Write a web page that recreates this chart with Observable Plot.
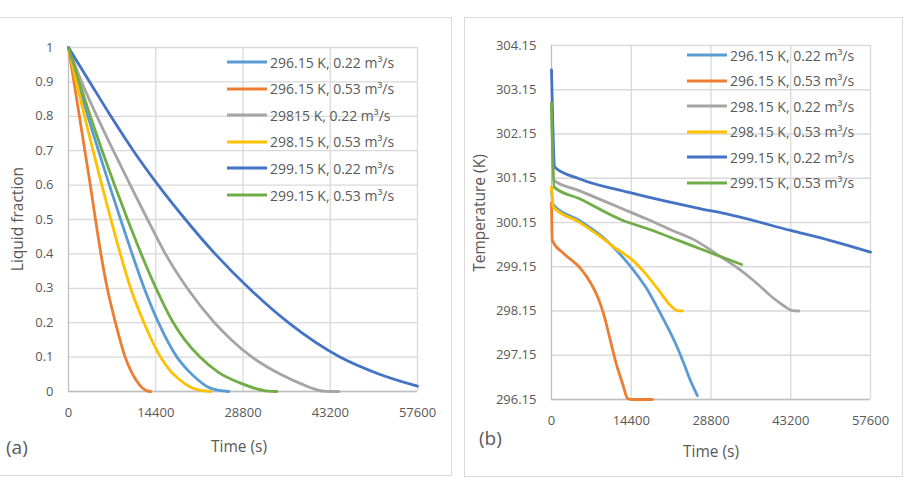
<!DOCTYPE html>
<html>
<head>
<meta charset="utf-8">
<script src="https://cdn.jsdelivr.net/npm/d3@7"></script>
<script src="https://cdn.jsdelivr.net/npm/@observablehq/plot@0.6"></script>
<style>
  html, body { margin: 0; padding: 0; background: #fff; }
  #page { position: relative; width: 904px; height: 480px; overflow: hidden; font-family: "Open Sans", sans-serif; color: #595959; }
  .panel { position: absolute; border: 1px solid #d9d9d9; box-sizing: border-box; pointer-events: none; }
  .chart { position: absolute; top: 0; }
  .txt { position: absolute; white-space: nowrap; line-height: 1; }
  .legend-row { position: absolute; display: flex; align-items: center; height: 20px; transform: translateY(-50%); font-size: 14px; white-space: nowrap; }
  .legend-row svg { display: block; margin-right: 3px; }
</style>
</head>
<body>
<div id="page"></div>
<script>
// Shared axis ticks
const timeTicks = [0, 14400, 28800, 43200, 57600];
const fractionTicks = [0, 0.1, 0.2, 0.3, 0.4, 0.5, 0.6, 0.7, 0.8, 0.9, 1];
const temperatureTicks = [296.15, 297.15, 298.15, 299.15, 300.15, 301.15, 302.15, 303.15, 304.15];

// Series names (panel a keeps its printed label "29815 K")
const seriesA = ["296.15 K, 0.22 m³/s", "296.15 K, 0.53 m³/s", "29815 K, 0.22 m³/s",
                 "298.15 K, 0.53 m³/s", "299.15 K, 0.22 m³/s", "299.15 K, 0.53 m³/s"];
const seriesB = ["296.15 K, 0.22 m³/s", "296.15 K, 0.53 m³/s", "298.15 K, 0.22 m³/s",
                 "298.15 K, 0.53 m³/s", "299.15 K, 0.22 m³/s", "299.15 K, 0.53 m³/s"];
const seriesColors = ["#5B9BD5", "#ED7D31", "#A5A5A5", "#FFC000", "#4472C4", "#70AD47"];

// (a) liquid fraction vs time [s, fraction]
const fraction29615_022 = [[0,1],[1550,0.9],[3200,0.8],[4950,0.7],[6750,0.6],[8600,0.5],[10500,0.4],[12500,0.3],[14850,0.2],[17900,0.1],[19800,0.06],[21300,0.035],[23000,0.013],[24800,0.003],[26480,0]];
const fraction29615_053 = [[0,1],[900,0.9],[1800,0.8],[2700,0.7],[3600,0.6],[4450,0.5],[5350,0.4],[6400,0.3],[7750,0.2],[9350,0.1],[10300,0.06],[11200,0.032],[12200,0.01],[13000,0.002],[13570,0]];
const fraction29815_022 = [[0,1],[2150,0.9],[4700,0.8],[7400,0.7],[10200,0.6],[13050,0.5],[16000,0.4],[19600,0.3],[24100,0.2],[26900,0.15],[30300,0.1],[35000,0.05],[38700,0.02],[41000,0.005],[42500,0.0005],[44600,0]];
const fraction29815_053 = [[0,1],[1300,0.9],[2650,0.8],[4050,0.7],[5500,0.6],[7000,0.5],[8550,0.4],[10250,0.3],[12450,0.2],[15200,0.1],[16800,0.06],[18300,0.035],[20000,0.014],[21800,0.003],[23470,0]];
const fraction29915_022 = [[0,1],[3500,0.9],[7000,0.8],[10700,0.7],[14800,0.6],[19300,0.5],[24200,0.4],[29800,0.3],[36300,0.2],[44800,0.1],[51200,0.051],[57600,0.0154]];
const fraction29915_053 = [[0,1],[1750,0.9],[3600,0.8],[5550,0.7],[7600,0.6],[9750,0.5],[12000,0.4],[14450,0.3],[17300,0.2],[19200,0.15],[21700,0.1],[24800,0.055],[28300,0.025],[31000,0.008],[32900,0.001],[34380,0]];

// (b) temperature vs time [s, K]
const temp29615_022 = [[0,300.85],[350,300.55],[4980,300.2],[9800,299.76],[11500,299.55],[14000,299.2],[17010,298.69],[20020,298.01],[22420,297.41],[23920,296.96],[24820,296.66],[26340,296.24]];
const temp29615_053 = [[0,300.6],[150,299.74],[2200,299.45],[5200,299.12],[7000,298.8],[8400,298.45],[9600,298.0],[10400,297.6],[11600,297.0],[12900,296.48],[13750,296.17],[14400,296.15],[18220,296.15]];
const temp29815_022 = [[0,302.85],[450,301.1],[5000,300.87],[12800,300.46],[17000,300.24],[21830,299.97],[26030,299.74],[30000,299.42],[33840,299.1],[36850,298.8],[39870,298.46],[41800,298.28],[43480,298.16],[44670,298.15]];
const temp29815_053 = [[0,300.95],[350,300.5],[4980,300.16],[9800,299.74],[11200,299.6],[12900,299.46],[14610,299.3],[17010,298.99],[19410,298.61],[21220,298.31],[22730,298.16],[23630,298.15]];
const temp29915_022 = [[0,303.6],[600,301.4],[5000,301.14],[14000,300.83],[27000,300.46],[31400,300.35],[43200,299.97],[50400,299.74],[57600,299.48]];
const temp29915_053 = [[0,302.85],[470,300.95],[4980,300.69],[12800,300.2],[18000,299.98],[23010,299.74],[28000,299.5],[34330,299.2]];

const fractionSeries = [fraction29615_022, fraction29615_053, fraction29815_022, fraction29815_053, fraction29915_022, fraction29915_053];
const tempSeries = [temp29615_022, temp29615_053, temp29815_022, temp29815_053, temp29915_022, temp29915_053];

const tidy = (names, list) => list.flatMap((pts, i) => pts.map(([t, v]) => ({series: names[i], t, v})));
const rowsA = tidy(seriesA, fractionSeries);
const rowsB = tidy(seriesB, tempSeries);

const page = document.getElementById("page");
const gridColor = "#d9d9d9";
const axisColor = "#bfbfbf";

function chart({rows, names, yDomain, yTicks, yFormat, width, height, margins}) {
  return Plot.plot({
    width, height,
    marginLeft: margins[0], marginRight: margins[1], marginTop: margins[2], marginBottom: margins[3],
    style: {fontFamily: "Open Sans", fontSize: "13px", color: "#595959", background: "transparent", overflow: "visible"},
    x: {domain: [0, 57600]},
    y: {domain: yDomain},
    color: {domain: names, range: seriesColors},
    marks: [
      Plot.gridX(timeTicks, {stroke: gridColor, strokeOpacity: 1, strokeWidth: 1.3}),
      Plot.gridY(yTicks, {stroke: gridColor, strokeOpacity: 1, strokeWidth: 1.3}),
      Plot.ruleY([yDomain[0]], {stroke: axisColor, strokeWidth: 1.3}),
      Plot.ruleX([0], {stroke: axisColor, strokeWidth: 1.1}),
      Plot.axisX(timeTicks, {tickSize: 0, tickPadding: 16, tickFormat: d => String(d), label: null, fill: "#595959"}),
      Plot.axisY(yTicks, {tickSize: 0, tickPadding: 15, tickFormat: yFormat, label: null, fill: "#595959"}),
      Plot.line(rows, {x: "t", y: "v", z: "series", stroke: "series", curve: "monotone-x", strokeWidth: 2.8})
    ]
  });
}

function place(el, left) {
  el.classList.add("chart");
  el.style.left = left + "px";
  page.appendChild(el);
}

function text(str, x, y, size, opts = {}) {
  const d = document.createElement("div");
  d.className = "txt";
  d.textContent = str;
  d.style.fontSize = size + "px";
  d.style.left = x + "px";
  d.style.top = y + "px";
  d.style.transform = opts.rotate ? "translate(-50%,-50%) rotate(-90deg)" : (opts.center ? "translate(-50%,-50%)" : "translateY(-50%)");
  page.appendChild(d);
}

function legend(names, x, y0, step) {
  names.forEach((name, i) => {
    const row = document.createElement("div");
    row.className = "legend-row";
    row.style.left = x + "px";
    row.style.top = (y0 + i * step) + "px";
    row.innerHTML = `<svg width="40" height="6"><line x1="0" x2="40" y1="3" y2="3" stroke="${seriesColors[i]}" stroke-width="3"/></svg>`;
    const label = document.createElement("span");
    label.textContent = name;
    row.appendChild(label);
    page.appendChild(row);
  });
}

// Panel (a): liquid fraction
place(chart({rows: rowsA, names: seriesA, yDomain: [0, 1], yTicks: fractionTicks, yFormat: d => String(d),
  width: 455, height: 480, margins: [68, 38, 47, 89]}), 0);

// Panel (b): temperature
place(chart({rows: rowsB, names: seriesB, yDomain: [296.15, 304.15], yTicks: temperatureTicks, yFormat: d => d.toFixed(2),
  width: 444, height: 480, margins: [91, 34, 45, 81]}), 460);

// Panel frames
const frameA = document.createElement("div");
frameA.className = "panel";
Object.assign(frameA.style, {left: "-2px", top: "17px", width: "454px", height: "459px"});
page.appendChild(frameA);
const frameB = document.createElement("div");
frameB.className = "panel";
Object.assign(frameB.style, {left: "464px", top: "17px", width: "439px", height: "460px"});
page.appendChild(frameB);

// Titles and panel tags
text("Time (s)", 239, 447, 15.5, {center: true});
text("Liquid fraction", 18, 219, 15.5, {rotate: true});
text("(a)", 6, 447, 19);
text("Time (s)", 711, 452, 15.5, {center: true});
text("Temperature (K)", 480, 213, 15.5, {rotate: true});
text("(b)", 479, 438, 19);

// Legends
legend(seriesA, 227, 62, 26.6);
legend(seriesB, 687, 55, 25.5);
</script>
</body>
</html>
